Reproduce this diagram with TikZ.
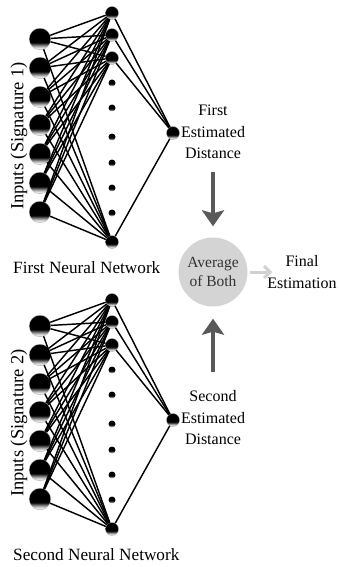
\documentclass[tikz,border=0pt]{standalone}
\usepackage{fontspec}
\setmainfont{Liberation Serif}
\usetikzlibrary{arrows.meta}
\pgfdeclareverticalshading{ballshade}{100bp}{color(0bp)=(gray!50); color(25bp)=(gray!50); color(27bp)=(white); color(33bp)=(gray!60); color(42bp)=(black); color(100bp)=(black)}
\tikzset{
  ball/.style={circle, shading=ballshade, draw=gray!70, line width=0.3pt, inner sep=0pt, minimum size=#1},
  inball/.style={ball=21.5pt},
  hidball/.style={ball=13pt},
  dotball/.style={ball=7pt, draw=none},
  edge/.style={line width=1.45pt, black},
  netlabel/.style={font=\fontsize{17.2}{20}\selectfont, anchor=west, inner sep=0pt},
  sidelabel/.style={font=\fontsize{16}{21.5}\selectfont, align=center, inner sep=0pt},
  biglabel/.style={font=\fontsize{18.5}{20}\selectfont, rotate=90, inner sep=0pt},
  darrow/.style={line width=4.5pt, draw=black!65, -{Stealth[width=22pt,length=16pt,inset=3pt]}},
  larrow/.style={line width=3pt, draw=black!18, -{Straight Barb[width=12pt,length=6pt,line width=3pt]}},
  avgnode/.style={circle, fill=black!17, minimum size=69pt, inner sep=0pt, align=center, text=black!80, font=\fontsize{15.5}{19.5}\selectfont}
}
\begin{document}
\begin{tikzpicture}[x=1pt,y=-1pt]
\useasboundingbox (0,0) rectangle (339,567);
\foreach \net/\dy/\k/\nm in {a/0/1/First, b/287/2/Second}{
  \foreach \i/\y in {1/39,2/68,3/97,4/125,5/154,6/183,7/212}
    \node[inball] (\net i\i) at (40,\y+\dy) {};
  \foreach \j/\y in {1/13,2/35,3/58,10/242}
    \node[hidball] (\net h\j) at (112,\y+\dy) {};
  \foreach \y in {83,108,137,163,188,213}
    \node[dotball] (\net d\y) at (112,\y+\dy) {};
  \node[hidball] (\net o) at (173,133+\dy) {};
  \foreach \i in {1,...,7}
    \foreach \j in {1,2,3,10}
      \draw[edge] (\net i\i) -- (\net h\j);
  \foreach \j in {1,2,3,10}
    \draw[edge] (\net h\j) -- (\net o);
  \node[biglabel] (\net lab) at (19,136+\dy) {Inputs (Signature \k)};
  \node[netlabel] (\net name) at (13,268+\dy) {\nm\ Neural Network};
}
\node[sidelabel] (fed) at (213,132) {First\\Estimated\\Distance};
\node[sidelabel] (sed) at (213,418) {Second\\Estimated\\Distance};
\node[avgnode] (avg) at (213,272) {Average\\of Both};
\node[sidelabel] (fe) at (302,272) {Final\\Estimation};
\draw[darrow, shorten <=13pt, shorten >=11pt] (fed) -- (avg);
\draw[darrow, shorten <=19pt, shorten >=12pt] (sed) -- (avg);
\draw[larrow, shorten <=2pt, shorten >=-5pt] (avg) -- (fe);
\end{tikzpicture}
\end{document}
